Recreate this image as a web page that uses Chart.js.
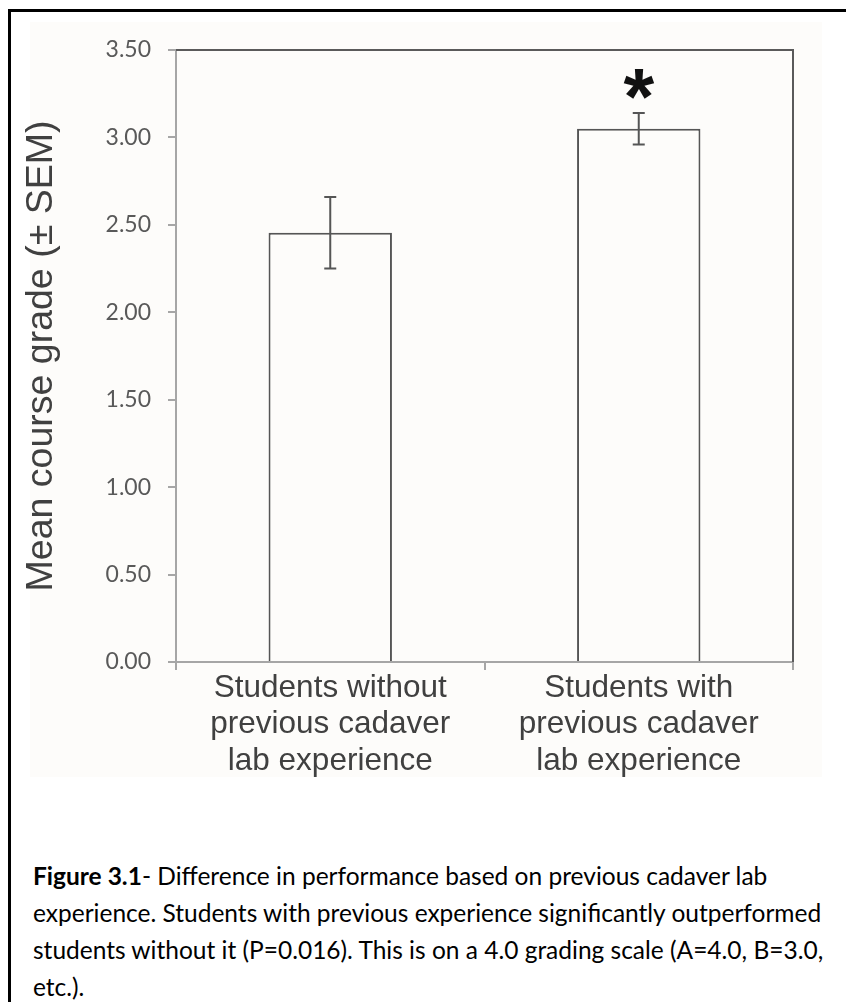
<!DOCTYPE html>
<html>
<head>
<meta charset="utf-8">
<script src="https://cdn.jsdelivr.net/npm/chart.js@4.4.0/dist/chart.umd.min.js"></script>
<style>
  html, body { margin: 0; padding: 0; background: #fff; }
  body { width: 846px; height: 1002px; position: relative; overflow: hidden; }
  #frame { position: absolute; left: 8px; top: 9px; width: 900px; height: 1100px;
           border-left: 3px solid #000; border-top: 3px solid #000; }
  #panel { position: absolute; left: 30px; top: 22px; width: 792px; height: 755px; background: #fdfcfa; }
  #chartBox { position: absolute; left: 0; top: 0; }
  #caption { position: absolute; left: 33px; top: 857px; font-family: Lato, "Open Sans", sans-serif;
             font-size: 24.5px; line-height: 37px; color: #000; white-space: nowrap; }
</style>
</head>
<body>
<div id="frame"></div>
<div id="panel"></div>
<div id="chartBox"><canvas id="gradeChart" width="846" height="790"></canvas></div>
<div id="caption">
  <b>Figure 3.1</b>- Difference in performance based on previous cadaver lab<br>
  experience. Students with previous experience significantly outperformed<br>
  students without it (P=0.016). This is on a 4.0 grading scale (A=4.0, B=3.0,<br>
  etc.).
</div>
<script>
const groupLabels = [
    ['Students without', 'previous cadaver', 'lab experience'],
    ['Students with', 'previous cadaver', 'lab experience']
];
const meanGrades = [2.455, 3.05];
const semValues = [0.205, 0.09];
const sigMarks = ['', '*'];
const yTicks = [0, 0.5, 1, 1.5, 2, 2.5, 3, 3.5];

// error bars, significance star and the top/right frame of the plot
const errorBars = {
    id: 'errorBars',
    afterDatasetsDraw(chart) {
        const { ctx, scales: { x, y } } = chart;
        ctx.save();
        ctx.strokeStyle = '#555';
        ctx.lineWidth = 2;
        meanGrades.forEach((m, i) => {
            const cx = x.getPixelForValue(i);
            const top = y.getPixelForValue(m + semValues[i]);
            const bot = y.getPixelForValue(m - semValues[i]);
            ctx.beginPath();
            ctx.moveTo(cx, top); ctx.lineTo(cx, bot);
            ctx.moveTo(cx - 6, top); ctx.lineTo(cx + 6, top);
            ctx.moveTo(cx - 6, bot); ctx.lineTo(cx + 6, bot);
            ctx.stroke();
            if (sigMarks[i]) {
                ctx.font = 'bold 100px "Liberation Sans"';
                let mt = ctx.measureText(sigMarks[i]);
                const h100 = mt.actualBoundingBoxAscent + mt.actualBoundingBoxDescent;
                const size = 100 * 30 / h100;
                ctx.font = 'bold ' + size + 'px "Liberation Sans"';
                mt = ctx.measureText(sigMarks[i]);
                const centerY = top - 29;
                ctx.fillStyle = '#111';
                ctx.textAlign = 'center';
                ctx.textBaseline = 'alphabetic';
                ctx.fillText(sigMarks[i], cx, centerY + (mt.actualBoundingBoxAscent - mt.actualBoundingBoxDescent) / 2);
            }
        });
        const a = chart.chartArea;
        ctx.strokeStyle = '#5a5a5a';
        ctx.beginPath();
        ctx.moveTo(a.left, a.top);
        ctx.lineTo(a.right, a.top);
        ctx.lineTo(a.right, a.bottom);
        ctx.stroke();
        ctx.restore();
    }
};

const ctx = document.getElementById('gradeChart').getContext('2d');
new Chart(ctx, {
    type: 'bar',
    data: {
        labels: groupLabels,
        datasets: [{
            data: meanGrades,
            backgroundColor: '#fdfcfa',
            borderColor: '#555',
            borderWidth: 2,
            categoryPercentage: 1,
            barPercentage: 0.4
        }]
    },
    options: {
        responsive: false,
        animation: false,
        layout: { padding: { left: 0, top: 50, right: 53, bottom: 0 } },
        plugins: { legend: { display: false }, tooltip: { enabled: false } },
        scales: {
            x: {
                afterFit(scale) { scale.height = 128; },
                grid: { drawOnChartArea: false, tickLength: 8, color: '#a6a6a6', lineWidth: 2, offset: true },
                border: { color: '#a6a6a6', width: 2 },
                ticks: {
                    padding: 0,
                    color: '#404040',
                    font: { family: '"Liberation Sans", Arial', size: 31.5, lineHeight: 1.16 }
                }
            },
            y: {
                min: 0,
                max: 3.5,
                afterFit(scale) { scale.width = 176; },
                afterBuildTicks(scale) { scale.ticks = yTicks.map(v => ({ value: v })); },
                grid: { drawOnChartArea: false, tickLength: 8, color: '#a6a6a6', lineWidth: 2 },
                border: { color: '#a6a6a6', width: 2 },
                ticks: {
                    padding: 17,
                    color: '#595959',
                    font: { family: 'Lato', size: 23 },
                    callback: v => Number(v).toFixed(2)
                },
                title: {
                    display: true,
                    text: 'Mean course grade (± SEM)',
                    color: '#404040',
                    padding: { top: 19, bottom: 0 },
                    font: { family: '"Liberation Sans", Arial', size: 37.5, lineHeight: 1.2 }
                }
            }
        }
    },
    plugins: [errorBars]
});
</script>
</body>
</html>
